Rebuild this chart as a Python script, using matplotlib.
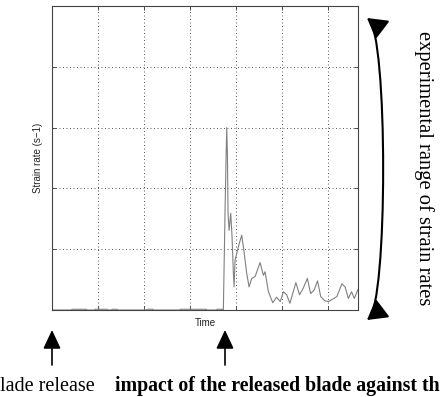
import matplotlib
matplotlib.use("Agg")
import matplotlib.pyplot as plt
from matplotlib.patches import FancyArrowPatch
from matplotlib.path import Path

# strain-rate record (time in grid divisions, rate in grid divisions)
time = [0.00, 0.42, 0.44, 0.74, 0.76, 0.92, 0.94, 1.20, 1.22, 1.29, 1.31, 1.41,
        1.43, 2.05, 2.07, 2.19, 2.21, 2.77, 2.79, 3.35, 3.37, 3.57, 3.59, 3.70,
        3.724, 3.761, 3.783, 3.797, 3.812, 3.826, 3.848, 3.884, 3.913, 3.942,
        3.957, 3.978, 4.014, 4.072, 4.123, 4.159, 4.232, 4.283, 4.341, 4.413,
        4.522, 4.594, 4.630, 4.703, 4.797, 4.88, 4.96, 5.03, 5.10, 5.17, 5.30,
        5.38, 5.46, 5.55, 5.62, 5.70, 5.77, 5.84, 5.93, 6.01, 6.08, 6.19, 6.30,
        6.37, 6.44, 6.51, 6.57, 6.65]
rate = [0, 0, 0.012, 0.012, 0, 0, 0.012, 0.012, 0, 0, 0.012, 0.012,
        0, 0, 0.012, 0.012, 0, 0, 0.012, 0.012, 0, 0, 0.012, 0.012,
        0.0, 1.64, 2.51, 3.0, 2.57, 1.59, 1.31, 1.59, 1.2, 0.6,
        0.38, 0.82, 0.93, 1.1, 1.23, 1.04, 0.60, 0.38, 0.52, 0.55,
        0.78, 0.57, 0.63, 0.30, 0.12, 0.21, 0.14, 0.30, 0.25, 0.11, 0.45,
        0.25, 0.36, 0.52, 0.27, 0.33, 0.48, 0.22, 0.15, 0.14, 0.17, 0.22, 0.43,
        0.38, 0.19, 0.30, 0.19, 0.34]

x_grid = [1, 2, 3, 4, 5, 6]
y_grid = [1, 2, 3, 4]

W, H = 448, 397


def px(x, y):
    # pixel position (from top-left) -> figure fraction
    return (x / W, 1 - y / H)


fig = plt.figure(figsize=(W / 100, H / 100), dpi=100)
ax = fig.add_axes([52 / W, 1 - 310 / H, 306 / W, 304 / H])

ax.plot(time, rate, color="#808080", lw=0.8)
ax.set_xlim(0, 6.65)
ax.set_ylim(0, 5)
ax.set_xticks(x_grid)
ax.set_yticks(y_grid)
ax.tick_params(direction="in", length=3, width=0.6, color="#333333",
               top=True, right=True, labelbottom=False, labelleft=False)
ax.grid(True, color="#555555", lw=0.7, linestyle=(0, (1, 2.6)))
for s in ax.spines.values():
    s.set_color("#444444")
    s.set_linewidth(0.8)

ax.set_xlabel("Time", fontsize=7, family="Liberation Sans", color="#222222")
ax.set_ylabel("Strain rate (s\u22121)", fontsize=7, family="Liberation Sans",
              color="#222222")
ax.xaxis.set_label_coords(0.5, -0.026)
ax.yaxis.set_label_coords(-0.029, 0.5)

# arrows below the axis
for xa in (52, 225):
    a = FancyArrowPatch(px(xa, 365), px(xa, 330), transform=fig.transFigure,
                        arrowstyle="-|>,head_length=11.5,head_width=5.4",
                        mutation_scale=1, lw=1.2, color="black",
                        shrinkA=0, shrinkB=0)
    fig.add_artist(a)

# the source picture is cropped: only these parts of the captions are visible
fig.text(*px(0, 391), "lade release", ha="left", va="baseline",
         fontsize=14.5, family="Liberation Serif")
fig.text(*px(115, 391), "impact of the released blade against th",
         ha="left", va="baseline", fontsize=14.3, fontweight="bold",
         family="Liberation Serif")

# curved double arrow on the right
verts = [px(367, 18), px(388, 34), px(388, 304), px(367, 320)]
codes = [Path.MOVETO, Path.CURVE4, Path.CURVE4, Path.CURVE4]
dbl = FancyArrowPatch(path=Path(verts, codes), transform=fig.transFigure,
                      arrowstyle="<|-|>,head_length=12,head_width=7",
                      mutation_scale=1, lw=1.5, color="black")
fig.add_artist(dbl)

fig.text(*px(424, 168), "experimental range of strain rates", rotation=-90,
         ha="center", va="center", fontsize=14.8, family="Liberation Serif")

fig.savefig("out.png", dpi=100)
